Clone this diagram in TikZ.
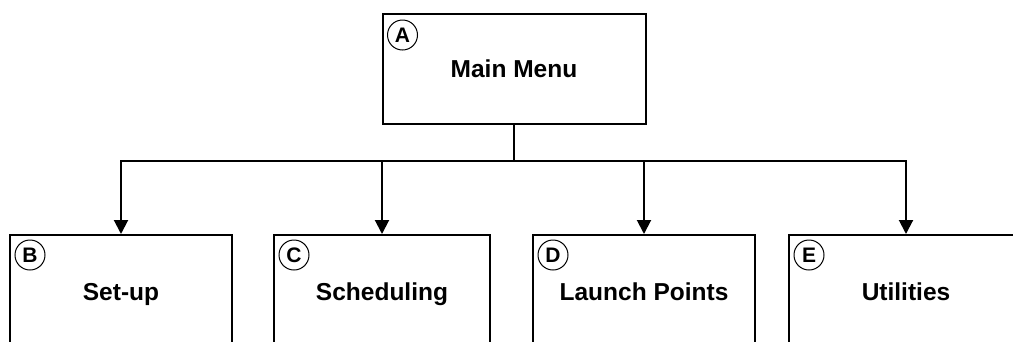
\documentclass[tikz,border=0pt]{standalone}
\usepackage{fontspec}
\setmainfont{Liberation Sans}
\usetikzlibrary{arrows.meta,positioning}
\tikzset{
  menubox/.style={draw,line width=2pt,minimum width=222pt,minimum height=114pt,
    text height=17.5pt,text depth=0pt,font=\fontsize{24.5}{29}\selectfont\bfseries},
  tag/.style={draw,circle,line width=1pt,minimum size=30pt,inner sep=0pt,
    text height=15pt,text depth=0pt,font=\fontsize{21}{23}\selectfont\bfseries},
}

\begin{document}
\begin{tikzpicture}[x=1pt,y=-1pt,>={Triangle[length=14pt,width=14pt]},line width=2pt]
\useasboundingbox (0,0) rectangle (1013,341);
\clip (0,0) rectangle (1013,341);
% top level
\node[menubox,minimum width=263pt,minimum height=110pt] (main) at (514,69) {Main Menu};
\node[tag] (taga) at ([xshift=21pt,yshift=-22pt]main.north west) {A};
% sub menus
\node[menubox] (setup) at (121,292) {Set-up};
\node[tag] (tagb) at ([xshift=21pt,yshift=-21pt]setup.north west) {B};
\node[menubox,minimum width=216pt] (sched) at (382,292) {Scheduling};
\node[tag] (tagc) at ([xshift=21pt,yshift=-21pt]sched.north west) {C};
\node[menubox] (launch) at (644,292) {Launch Points};
\node[tag] (tagd) at ([xshift=21pt,yshift=-21pt]launch.north west) {D};
\node[menubox,minimum width=234pt] (utils) at (906,292) {Utilities};
\node[tag] (tage) at ([xshift=21pt,yshift=-21pt]utils.north west) {E};
% connectors
\coordinate (bus) at (514,161);
\draw (main.south) -- (bus);
\draw[->] (bus) -| (setup.north);
\draw[->] (bus) -| (sched.north);
\draw[->] (bus) -| (launch.north);
\draw[->] (bus) -| (utils.north);
\end{tikzpicture}
\end{document}
